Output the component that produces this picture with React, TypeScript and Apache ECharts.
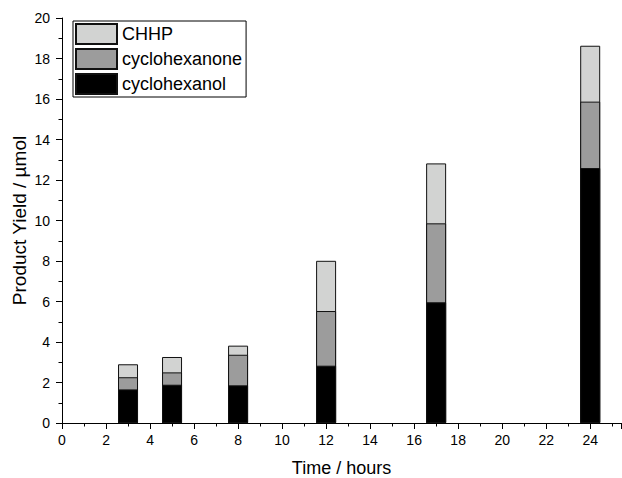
import React, { useEffect, useRef } from "react";
import * as echarts from "echarts";

const hours = [3, 5, 8, 12, 17, 24];
const cyclohexanol = [1.66, 1.89, 1.86, 2.83, 5.96, 12.59];
const cyclohexanone = [0.6, 0.61, 1.51, 2.7, 3.9, 3.28];
const chhp = [0.64, 0.76, 0.45, 2.48, 2.96, 2.76];
const legendOrder = ["CHHP", "cyclohexanone", "cyclohexanol"];

const FONT = 'Arial, "Liberation Sans", sans-serif';

export default function App() {
  const ref = useRef<HTMLDivElement>(null);
  useEffect(() => {
    const chart = echarts.init(ref.current!, null, { renderer: "svg" });
    // stacked tops (cumulative), drawn overlapping so each layer shows its own segment
    const topAnol = cyclohexanol.slice();
    const topAnone = cyclohexanol.map((v, i) => v + cyclohexanone[i]);
    const topChhp = topAnone.map((v, i) => v + chhp[i]);
    const mk = (name: string, vals: number[], color: string) => ({
      name,
      type: "bar",
      barWidth: 20,
      barGap: "-100%",
      data: hours.map((h, i) => [h, vals[i]]),
      itemStyle: { color, borderColor: "#111", borderWidth: 1 },
    });
    chart.setOption({
      animation: false,
      backgroundColor: "#fff",
      textStyle: { fontFamily: FONT },
      grid: {
        left: 62,
        right: 1,
        top: 18,
        bottom: 55,
        containLabel: false,
        outerBoundsMode: "none",
      },
      legend: {
        data: legendOrder,
        orient: "vertical",
        left: 73,
        top: 21,
        itemWidth: 41,
        itemHeight: 20,
        itemGap: 3,
        padding: [2, 4, 2, 2],
        borderColor: "#000",
        borderWidth: 1,
        icon: "rect",
        textStyle: { fontSize: 18, color: "#000", fontFamily: FONT },
      },
      xAxis: {
        type: "value",
        min: 0,
        max: 25.4,
        interval: 2,
        name: "Time / hours",
        nameLocation: "middle",
        nameGap: 36,
        nameMoveOverlap: false,
        nameTextStyle: { fontSize: 18, lineHeight: 18, color: "#000", fontFamily: FONT },
        axisLine: { show: true, lineStyle: { color: "#000", width: 1 } },
        axisTick: { show: true, length: 6, lineStyle: { color: "#000" } },
        minorTick: { show: true, splitNumber: 2, length: 3.5, lineStyle: { color: "#000" } },
        splitLine: { show: false },
        axisLabel: { color: "#000", fontSize: 14, fontFamily: FONT, margin: 10, showMaxLabel: false },
      },
      yAxis: {
        type: "value",
        min: 0,
        max: 20,
        interval: 2,
        name: "Product Yield / µmol",
        nameLocation: "middle",
        nameGap: 33,
        nameMoveOverlap: false,
        nameTextStyle: { fontSize: 19, lineHeight: 19, color: "#000", fontFamily: FONT },
        axisLine: { show: true, lineStyle: { color: "#000", width: 1 } },
        axisTick: { show: true, length: 6, lineStyle: { color: "#000" } },
        minorTick: { show: true, splitNumber: 2, length: 3.5, lineStyle: { color: "#000" } },
        splitLine: { show: false },
        axisLabel: { color: "#000", fontSize: 14, fontFamily: FONT, margin: 12 },
      },
      series: [
        mk("CHHP", topChhp, "#d2d3d2"),
        mk("cyclohexanone", topAnone, "#9c9c9c"),
        mk("cyclohexanol", topAnol, "#000000"),
      ],
    });
    return () => chart.dispose();
  }, []);
  return (
    <div
      ref={ref}
      style={{ position: "fixed", left: 0, top: 0, width: 622, height: 478 }}
    />
  );
}
